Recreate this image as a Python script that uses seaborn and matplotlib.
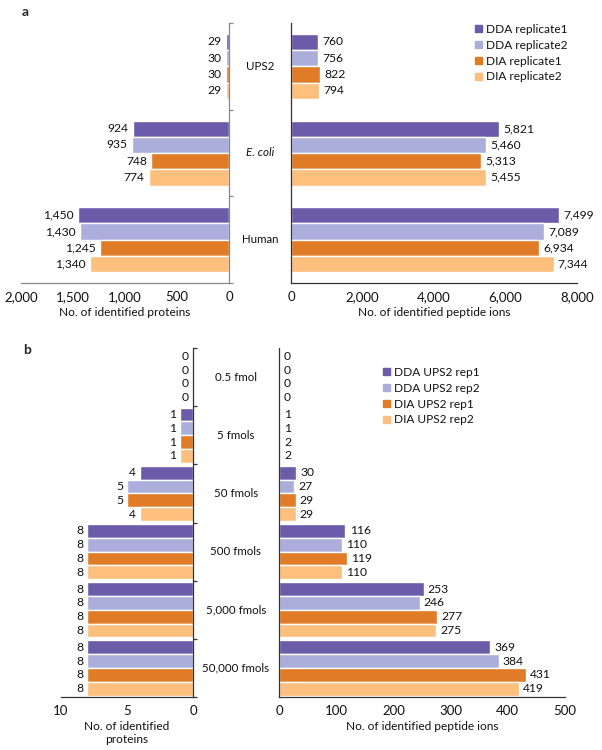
import pandas as pd
import matplotlib
matplotlib.use("Agg")
import matplotlib.pyplot as plt
import matplotlib.transforms as mtrans
import seaborn as sns

sns.set_style("white")
plt.rcParams['font.family'] = ['Lato', 'DejaVu Sans']

# panel a data
samples_a = ["UPS2", "E. coli", "Human"]
runs_a = ["DDA replicate1", "DDA replicate2", "DIA replicate1", "DIA replicate2"]
proteins_a = {
    "DDA replicate1": [29, 924, 1450],
    "DDA replicate2": [30, 935, 1430],
    "DIA replicate1": [30, 748, 1245],
    "DIA replicate2": [29, 774, 1340],
}
peptides_a = {
    "DDA replicate1": [760, 5821, 7499],
    "DDA replicate2": [756, 5460, 7089],
    "DIA replicate1": [822, 5313, 6934],
    "DIA replicate2": [794, 5455, 7344],
}

# panel b data
amounts_b = ["0.5 fmol", "5 fmols", "50 fmols", "500 fmols", "5,000 fmols", "50,000 fmols"]
runs_b = ["DDA UPS2 rep1", "DDA UPS2 rep2", "DIA UPS2 rep1", "DIA UPS2 rep2"]
proteins_b = {
    "DDA UPS2 rep1": [0, 1, 4, 8, 8, 8],
    "DDA UPS2 rep2": [0, 1, 5, 8, 8, 8],
    "DIA UPS2 rep1": [0, 1, 5, 8, 8, 8],
    "DIA UPS2 rep2": [0, 1, 4, 8, 8, 8],
}
peptides_b = {
    "DDA UPS2 rep1": [0, 1, 30, 116, 253, 369],
    "DDA UPS2 rep2": [0, 1, 27, 110, 246, 384],
    "DIA UPS2 rep1": [0, 2, 29, 119, 277, 431],
    "DIA UPS2 rep2": [0, 2, 29, 110, 275, 419],
}

colors = ["#6a5ca8", "#abaedb", "#e07b27", "#fcbf7d"]
txt = "#111111"


def long_df(cats, runs, values):
    rows = []
    for r in runs:
        for c, v in zip(cats, values[r]):
            rows.append({"cat": c, "run": r, "value": v})
    return pd.DataFrame(rows)


W, H = 602, 750
fig = plt.figure(figsize=(W / 100, H / 100), dpi=100)


def px_axes(x0, x1, top, bottom):
    return fig.add_axes([x0 / W, 1 - bottom / H, (x1 - x0) / W, (bottom - top) / H])


def draw(ax, cats, runs, values, xmax, xticks, width, side, spine_col):
    df = long_df(cats, runs, values)
    sns.barplot(data=df, y="cat", x="value", hue="run", order=cats,
                hue_order=runs, palette=colors, orient="h", width=width,
                saturation=1, ax=ax, legend=False)
    ax.set_ylim(len(cats) - 0.5, -0.5)
    n = len(cats)
    ax.set_yticks([i - 0.5 for i in range(n + 1)])
    ax.set_yticklabels([])
    ax.set_ylabel("")
    ax.set_xticks(xticks)
    ax.set_xticklabels([f"{t:,}" for t in xticks], fontsize=9.5, color=txt)
    ax.spines["top"].set_visible(False)
    if side == "left":
        ax.set_xlim(xmax, 0)
        ax.yaxis.tick_right()
        ax.spines["left"].set_visible(False)
    else:
        ax.set_xlim(0, xmax)
        ax.spines["right"].set_visible(False)
    for s in ["left", "right", "bottom"]:
        ax.spines[s].set_color(spine_col)
        ax.spines[s].set_linewidth(0.9)
    ax.tick_params(axis="both", direction="out", length=3, width=0.9,
                   color=spine_col, pad=3)
    # value labels
    for cont in ax.containers:
        for bar in cont:
            v = bar.get_width()
            y = bar.get_y() + bar.get_height() / 2
            off = -3 if side == "left" else 3
            ax.annotate(f"{v:,.0f}", xy=(v, y), xytext=(off, 0),
                        textcoords="offset points",
                        ha="right" if side == "left" else "left",
                        va="center", fontsize=8.7, color=txt)


# ---- panel a
ax1 = px_axes(21, 229, 23, 283)
draw(ax1, samples_a, runs_a, proteins_a, 2000, [0, 500, 1000, 1500, 2000], 0.75, "left", "#888888")
ax1.set_xlabel("No. of identified proteins", fontsize=8.6, color=txt, labelpad=3)
ax2 = px_axes(291, 577, 23, 283)
draw(ax2, samples_a, runs_a, peptides_a, 8000, [0, 2000, 4000, 6000, 8000], 0.75, "right", "#333333")
ax2.set_xlabel("No. of identified peptide ions", fontsize=8.6, color=txt, labelpad=3)

tr = mtrans.blended_transform_factory(fig.transFigure, ax1.transData)
for i, c in enumerate(samples_a):
    ax1.text(260 / W, i, c, transform=tr, ha="center", va="center", fontsize=8.3,
             color=txt, style="italic" if c == "E. coli" else "normal")

ax2.legend(handles=[plt.Rectangle((0, 0), 1, 1, color=c) for c in colors],
           labels=runs_a, loc="upper left", bbox_to_anchor=(475 / W, 1 - 24 / H),
           bbox_transform=fig.transFigure, frameon=False, fontsize=8.6,
           handlelength=0.55, handleheight=0.55, handletextpad=0.35,
           labelspacing=0.4, borderaxespad=0, borderpad=0, labelcolor=txt)

# ---- panel b
ax3 = px_axes(61, 193, 348, 697)
draw(ax3, amounts_b, runs_b, proteins_b, 10, [0, 5, 10], 0.95, "left", "#333333")
ax3.set_xlabel("No. of identified\nproteins", fontsize=8.6, color=txt, labelpad=3,
               linespacing=1.15)
ax4 = px_axes(279, 565, 348, 697)
draw(ax4, amounts_b, runs_b, peptides_b, 500, [0, 100, 200, 300, 400, 500], 0.95, "right", "#333333")
ax4.set_xlabel("No. of identified peptide ions", fontsize=8.6, color=txt, labelpad=3)

tr = mtrans.blended_transform_factory(fig.transFigure, ax3.transData)
for i, c in enumerate(amounts_b):
    ax3.text(236 / W, i, c, transform=tr, ha="center", va="center", fontsize=8.3,
             color=txt)

ax4.legend(handles=[plt.Rectangle((0, 0), 1, 1, color=c) for c in colors],
           labels=runs_b, loc="upper left", bbox_to_anchor=(383 / W, 1 - 367 / H),
           bbox_transform=fig.transFigure, frameon=False, fontsize=8.6,
           handlelength=0.55, handleheight=0.55, handletextpad=0.35,
           labelspacing=0.4, borderaxespad=0, borderpad=0, labelcolor=txt)

fig.text(25 / W, 1 - 12 / H, "a", fontsize=10, fontweight="bold", ha="center", va="center")
fig.text(27 / W, 1 - 350 / H, "b", fontsize=10, fontweight="bold", ha="center", va="center")

fig.savefig("out.png", dpi=100)
